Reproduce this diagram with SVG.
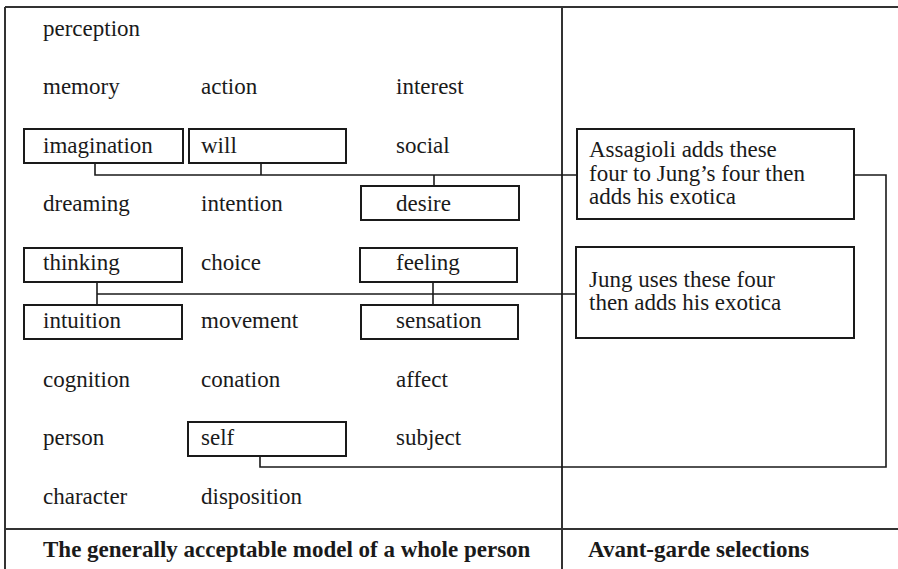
<svg xmlns="http://www.w3.org/2000/svg" width="898" height="569" viewBox="0 0 898 569">
<style>
  text { font-family: "Liberation Serif", "Times New Roman", serif; font-size: 23px; fill: #1a1a1a; }
  .b { font-weight: bold; font-size: 23px; }
  .box { fill: none; stroke: #1a1a1a; stroke-width: 2; }
  .frame { fill: none; stroke: #333; stroke-width: 2; }
  .conn { fill: none; stroke: #1a1a1a; stroke-width: 1.6; }
</style>
<rect width="898" height="569" fill="#fff"/>
<g id="frame">
  <line class="frame" x1="5" y1="7" x2="898" y2="7"/>
  <line class="frame" x1="5" y1="7" x2="5" y2="569"/>
  <line class="frame" x1="562" y1="7" x2="562" y2="569"/>
  <line class="frame" x1="5" y1="529" x2="898" y2="529"/>
</g>
<g id="connectors">
  <polyline class="conn" points="95,163 95,175 577,175"/>
  <line class="conn" x1="261" y1="163" x2="261" y2="175"/>
  <line class="conn" x1="434" y1="175" x2="434" y2="186"/>
  <polyline class="conn" points="854,175 886,175 886,467 260,467 260,456"/>
  <line class="conn" x1="97" y1="282" x2="97" y2="304"/>
  <line class="conn" x1="97" y1="294" x2="576" y2="294"/>
  <line class="conn" x1="433" y1="282" x2="433" y2="305"/>
</g>
<g id="perception"><text x="43" y="36">perception</text></g>
<g id="memory"><text x="43" y="94">memory</text></g>
<g id="action"><text x="201" y="94">action</text></g>
<g id="interest"><text x="396" y="94">interest</text></g>
<g id="imagination"><rect class="box" x="24" y="129" width="159" height="34"/><text x="43" y="153">imagination</text></g>
<g id="will"><rect class="box" x="189" y="129" width="157" height="34"/><text x="201" y="153">will</text></g>
<g id="social"><text x="396" y="153">social</text></g>
<g id="dreaming"><text x="43" y="211">dreaming</text></g>
<g id="intention"><text x="201" y="211">intention</text></g>
<g id="desire"><rect class="box" x="361" y="186" width="158" height="34"/><text x="396" y="211">desire</text></g>
<g id="thinking"><rect class="box" x="24" y="248" width="158" height="34"/><text x="43" y="270">thinking</text></g>
<g id="choice"><text x="201" y="270">choice</text></g>
<g id="feeling"><rect class="box" x="360" y="248" width="157" height="34"/><text x="396" y="270">feeling</text></g>
<g id="intuition"><rect class="box" x="24" y="305" width="158" height="34"/><text x="43" y="328">intuition</text></g>
<g id="movement"><text x="201" y="328">movement</text></g>
<g id="sensation"><rect class="box" x="361" y="305" width="157" height="34"/><text x="396" y="328">sensation</text></g>
<g id="cognition"><text x="43" y="387">cognition</text></g>
<g id="conation"><text x="201" y="387">conation</text></g>
<g id="affect"><text x="396" y="387">affect</text></g>
<g id="person"><text x="43" y="445">person</text></g>
<g id="self"><rect class="box" x="188" y="422" width="158" height="34"/><text x="201" y="445">self</text></g>
<g id="subject"><text x="396" y="445">subject</text></g>
<g id="character"><text x="43" y="504">character</text></g>
<g id="disposition"><text x="201" y="504">disposition</text></g>
<g id="assagioli"><rect class="box" x="577" y="129" width="277" height="90"/>
  <text x="589" y="157">Assagioli adds these</text>
  <text x="589" y="181">four to Jung’s four then</text>
  <text x="589" y="204">adds his exotica</text></g>
<g id="jung"><rect class="box" x="576" y="247" width="278" height="91"/>
  <text x="589" y="287">Jung uses these four</text>
  <text x="589" y="310">then adds his exotica</text></g>
<g id="footer-left"><text class="b" x="43" y="557">The generally acceptable model of a whole person</text></g>
<g id="footer-right"><text class="b" x="588" y="557">Avant-garde selections</text></g>
</svg>
